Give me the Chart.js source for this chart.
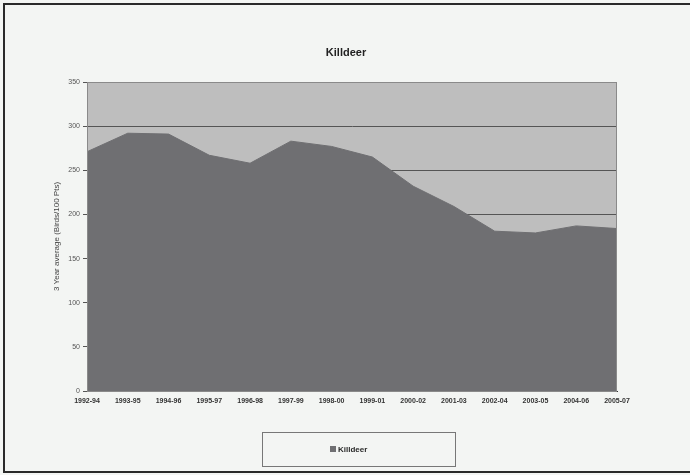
<!DOCTYPE html>
<html>
<head>
<meta charset="utf-8">
<script src="https://cdn.jsdelivr.net/npm/chart.js@4"></script>
<style>
  html, body { margin: 0; padding: 0; background: #f3f5f3; }
  #wrap { width: 690px; height: 475px; position: relative; }
</style>
</head>
<body>
<div id="wrap"><canvas id="c" width="690" height="475"></canvas></div>
<script>
// Killdeer, 3-year running average (birds per 100 points)
const periods = ['1992-94','1993-95','1994-96','1995-97','1996-98','1997-99','1998-00',
                 '1999-01','2000-02','2001-03','2002-04','2003-05','2004-06','2005-07'];
const killdeer = [271, 292, 291, 267, 258, 283, 277, 265, 232, 209, 181, 179, 187, 184];
const yTicks = [0, 50, 100, 150, 200, 250, 300, 350];

const chartTitle = 'Killdeer';
const yTitle = '3 Year average (Birds/100 Pts)';
const seriesName = 'Killdeer';

const FONT = '"Liberation Sans", Arial, sans-serif';

// Outer frame, centred title and the boxed legend under the plot
const decor = {
  id: 'decor',
  beforeDraw(chart) {
    const { ctx, chartArea: a } = chart;
    ctx.save();
    ctx.fillStyle = '#f3f5f3';
    ctx.fillRect(0, 0, chart.width, chart.height);
    // plot background
    ctx.fillStyle = '#bebebe';
    ctx.fillRect(a.left, a.top, a.right - a.left, a.bottom - a.top);
    ctx.restore();
  },
  afterDraw(chart) {
    const { ctx, chartArea: a } = chart;
    ctx.save();
    // frame
    ctx.strokeStyle = '#2a2a2a';
    ctx.lineWidth = 2;
    ctx.beginPath();
    ctx.moveTo(692, 4); ctx.lineTo(4, 4); ctx.lineTo(4, 472); ctx.lineTo(692, 472);
    ctx.stroke();
    // title
    ctx.fillStyle = '#222';
    ctx.font = 'bold 11px ' + FONT;
    ctx.textAlign = 'center';
    ctx.textBaseline = 'middle';
    ctx.fillText(chartTitle, 346, 53);
    // legend box
    ctx.strokeStyle = '#777';
    ctx.lineWidth = 1;
    ctx.strokeRect(262.5, 432.5, 193, 34);
    ctx.fillStyle = '#6f6f72';
    ctx.fillRect(330, 446, 6, 6);
    ctx.fillStyle = '#2a2a2a';
    ctx.font = 'bold 8px ' + FONT;
    ctx.textAlign = 'left';
    ctx.fillText(seriesName, 338, 449.5);
    // plot outline
    ctx.strokeStyle = '#8a8a8a';
    ctx.strokeRect(a.left + 0.5, a.top + 0.5, a.right - a.left - 1, a.bottom - a.top);
    ctx.restore();
  }
};

new Chart(document.getElementById('c'), {
  type: 'line',
  data: {
    labels: periods,
    datasets: [{
      label: seriesName,
      data: killdeer,
      fill: 'origin',
      backgroundColor: '#6f6f72',
      borderColor: '#6f6f72',
      borderWidth: 1,
      pointRadius: 0,
      tension: 0
    }]
  },
  options: {
    responsive: false,
    animation: false,
    events: [],
    layout: { padding: { left: 50, top: 82, right: 73, bottom: 64 } },
    plugins: {
      legend: { display: false },
      title: { display: false },
      tooltip: { enabled: false }
    },
    scales: {
      x: {
        offset: false,
        afterFit(s) { s.height = 20; },
        grid: { display: false, drawTicks: false },
        border: { display: true, color: '#333', width: 1 },
        ticks: {
          color: '#333',
          font: { family: FONT, size: 7, weight: 'bold' },
          maxRotation: 0, autoSkip: false, padding: 6
        }
      },
      y: {
        min: 0, max: 350,
        afterFit(s) { s.width = 37; },
        afterBuildTicks(s) { s.ticks = yTicks.map(v => ({ value: v })); },
        grid: {
          color: '#555',
          lineWidth: 1,
          tickLength: 4,
          drawOnChartArea: true
        },
        border: { display: true, color: '#777' },
        ticks: {
          color: '#555',
          font: { family: FONT, size: 7 },
          padding: 3
        },
        title: {
          display: true,
          text: yTitle,
          color: '#444',
          font: { family: FONT, size: 8 },
          padding: { top: 2, bottom: 0 }
        }
      }
    }
  },
  plugins: [decor]
});
</script>
</body>
</html>
